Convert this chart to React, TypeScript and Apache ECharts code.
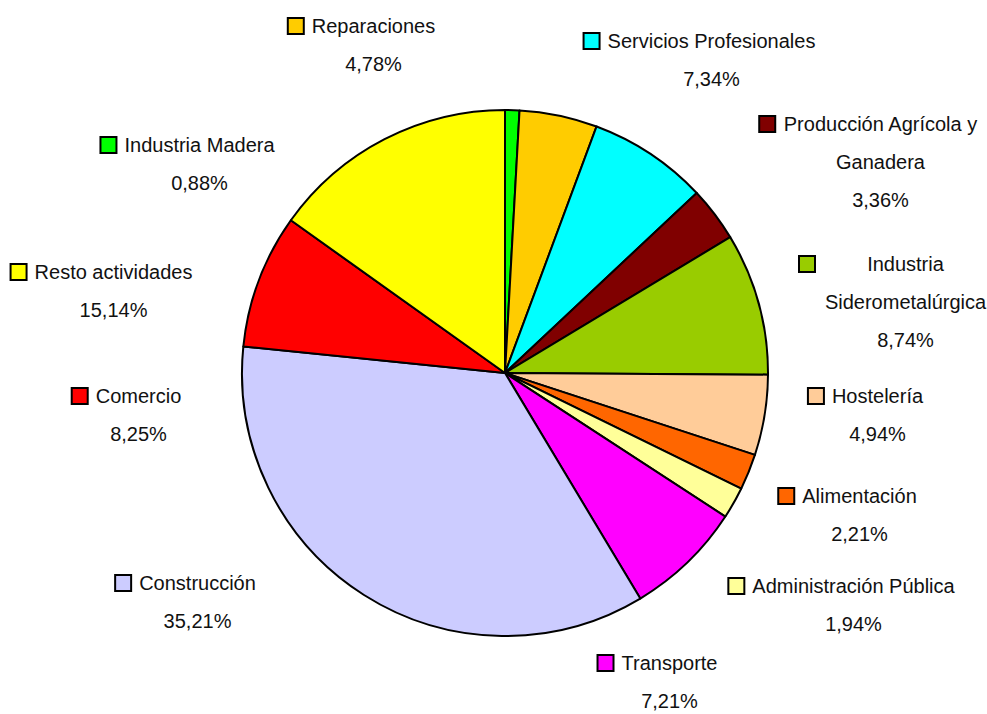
import React, { useEffect, useRef } from "react";
import * as echarts from "echarts";

const categories = [
  "Industria Madera",
  "Reparaciones",
  "Servicios Profesionales",
  "Producción Agrícola y\nGanadera",
  "Industria\nSiderometalúrgica",
  "Hostelería",
  "Alimentación",
  "Administración Pública",
  "Transporte",
  "Construcción",
  "Comercio",
  "Resto actividades",
];
const values = [0.88, 4.78, 7.34, 3.36, 8.74, 4.94, 2.21, 1.94, 7.21, 35.21, 8.25, 15.14];
const colors = [
  "#00FF00", "#FFCC00", "#00FFFF", "#800000", "#99CC00", "#FFCC99",
  "#FF6600", "#FFFF99", "#FF00FF", "#CCCCFF", "#FF0000", "#FFFF00",
];
// label anchor (centre of the label block) per slice
const labelPos: [number, number][] = [
  [188, 164], [362, 45], [700, 60], [869, 162], [894, 302], [866, 415],
  [848, 515], [842, 605], [658, 682], [186, 602], [127, 415], [102, 291],
];
const wideLabel = [false, false, false, false, true, false, false, false, false, false, false, false];

const FONT = "'Liberation Sans', Arial, sans-serif";

export default function App() {
  const ref = useRef<HTMLDivElement>(null);
  useEffect(() => {
    if (!ref.current) return;
    const chart = echarts.init(ref.current, null, { renderer: "svg" });
    const fmtVal = (v: number) => v.toFixed(2).replace(".", ",") + "%";
    const data = categories.map((name, i) => {
      const wide = wideLabel[i];
      const t = wide ? "tw" : "t";
      const lines = name.split("\n");
      const parts = lines.map((ln, k) =>
        k === 0 ? `{sq|}{g|}{${t}|${ln}}` : `{sp|}{${t}|${ln}}`
      );
      parts.push(`{sp|}{${t}|${fmtVal(values[i])}}`);
      return {
        name,
        value: values[i],
        itemStyle: { color: colors[i] },
        label: {
          formatter: parts.join("\n"),
          rich: {
            sq: {
              width: 14,
              height: 14,
              backgroundColor: colors[i],
              borderColor: "#000",
              borderWidth: 2,
              verticalAlign: "middle",
            },
          },
        },
      };
    });
    chart.setOption({
      animation: false,
      backgroundColor: "#fff",
      series: [
        {
          type: "pie",
          center: [505, 373],
          radius: 263,
          startAngle: 90,
          clockwise: true,
          data,
          itemStyle: { borderColor: "#000", borderWidth: 2 },
          labelLine: { show: false },
          emphasis: { disabled: true },
          label: {
            show: true,
            position: "outside",
            align: "center",
            overflow: "none",
            rich: {
              t: { fontSize: 20, fontFamily: FONT, color: "#111", lineHeight: 38, verticalAlign: "middle" },
              tw: { fontSize: 20, fontFamily: FONT, color: "#111", lineHeight: 38, width: 165, align: "center", verticalAlign: "middle" },
              g: { width: 9 },
              sp: { width: 23 },
            },
          },
          labelLayout: (p: any) => ({
            x: labelPos[p.dataIndex][0],
            y: labelPos[p.dataIndex][1],
            align: "center",
            verticalAlign: "middle",
          }),
        },
      ],
    });
    return () => chart.dispose();
  }, []);
  return (
    <div
      ref={ref}
      style={{ position: "fixed", left: 0, top: 0, width: 987, height: 714, background: "#fff" }}
    />
  );
}
